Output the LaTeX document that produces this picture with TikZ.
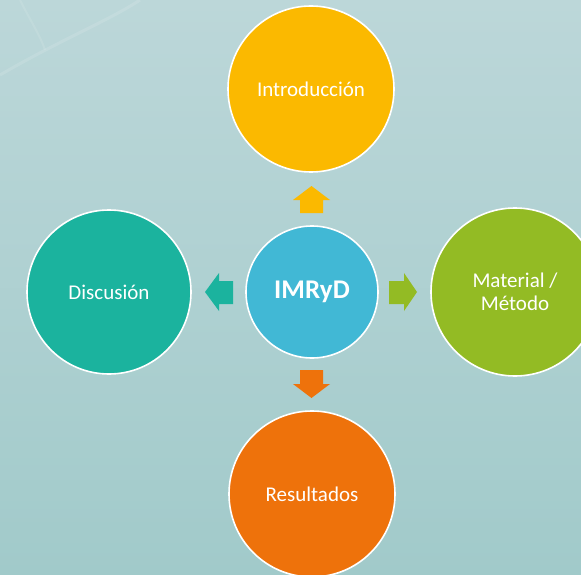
\documentclass[tikz,border=0pt]{standalone}
\usepackage{fontspec}
\setmainfont{Carlito}
\definecolor{bgtop}{RGB}{188,215,217}
\definecolor{bgbot}{RGB}{161,202,202}
\definecolor{cintro}{RGB}{251,185,0}
\definecolor{chub}{RGB}{65,184,213}
\definecolor{cmat}{RGB}{147,187,36}
\definecolor{cdisc}{RGB}{27,179,158}
\definecolor{cres}{RGB}{238,114,11}
\begin{document}
\begin{tikzpicture}[x=1pt,y=-1pt,
  bubble/.style={circle,draw=white,line width=1.6pt,inner sep=0pt,text=white,align=center,font=\fontsize{21}{23}\selectfont}]
\shade[top color=bgtop,bottom color=bgbot] (0,0) rectangle (581,575);
\useasboundingbox (0,0) rectangle (581,575);
% faint background arcs
\draw[white,opacity=0.12,line width=3pt] (0,75) .. controls (60,40) and (110,20) .. (140,0);
\draw[white,opacity=0.10,line width=2pt] (20,0) .. controls (30,20) and (40,35) .. (45,50);
\node[bubble,fill=chub,minimum size=132pt,font=\fontsize{27}{30}\selectfont\bfseries] (hub) at (312,292) {IMRyD};
\node[bubble,fill=cintro,minimum size=166pt] (intro) at (311,89) {Introducción};
\node[bubble,fill=cmat,minimum size=168pt] (mat) at (515,292) {Material /\\Método};
\node[bubble,fill=cdisc,minimum size=164pt] (disc) at (109,292) {Discusión};
\node[bubble,fill=cres,minimum size=166pt] (res) at (312,494) {Resultados};
% block arrows
\fill[cintro] (300,213) -- (300,200) -- (293,200) -- (311.5,186) -- (330,200) -- (323,200) -- (323,213) -- cycle;
\fill[cres] (300,370) -- (300,384) -- (293,384) -- (311.5,398) -- (330,384) -- (323,384) -- (323,370) -- cycle;
\fill[cdisc] (233,281) -- (219,281) -- (219,273) -- (205,292) -- (219,311) -- (219,304) -- (233,304) -- cycle;
\fill[cmat] (389,281) -- (404,281) -- (404,273) -- (417,292) -- (404,311) -- (404,304) -- (389,304) -- cycle;
\end{tikzpicture}
\end{document}
